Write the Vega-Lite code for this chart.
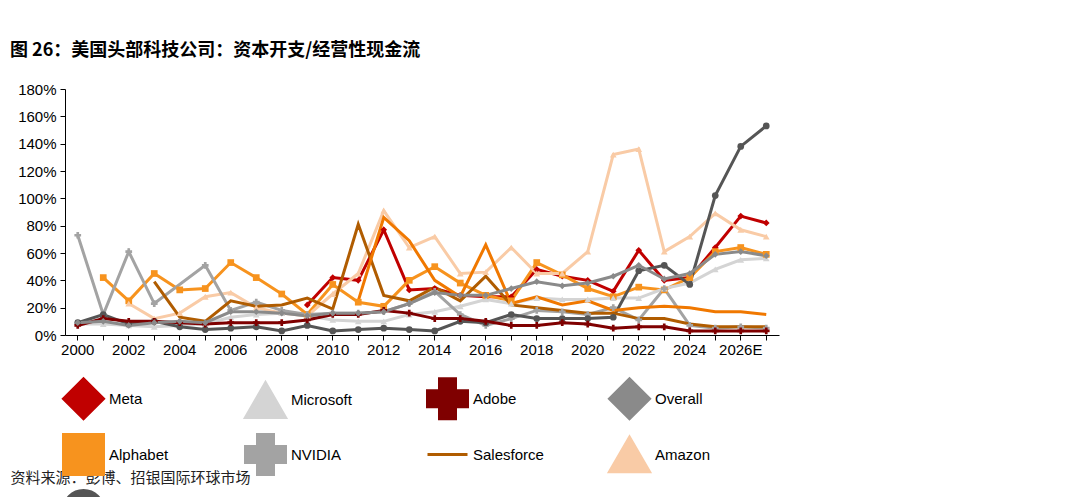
{
  "$schema": "https://vega.github.io/schema/vega-lite/v6.json",
  "padding": {"left": 10, "top": 42, "right": 4, "bottom": 4},
  "config": {
    "font": "Liberation Sans",
    "view": {"stroke": null}
  },
  "width": 714,
  "height": 246,
  "title": {
    "text": "图 26：美国头部科技公司：资本开支/经营性现金流",
    "anchor": "start",
    "frame": "bounds",
    "offset": 22,
    "font": "Noto Sans CJK SC",
    "fontSize": 18,
    "fontWeight": "bold",
    "color": "#000000"
  },
  "data": {
    "values": [
      {"s": "Meta", "yr": "2009", "v": 22}, {"s": "Meta", "yr": "2010", "v": 42}, {"s": "Meta", "yr": "2011", "v": 40},
      {"s": "Meta", "yr": "2012", "v": 77}, {"s": "Meta", "yr": "2013", "v": 33}, {"s": "Meta", "yr": "2014", "v": 34},
      {"s": "Meta", "yr": "2015", "v": 29}, {"s": "Meta", "yr": "2016", "v": 28}, {"s": "Meta", "yr": "2017", "v": 28},
      {"s": "Meta", "yr": "2018", "v": 48}, {"s": "Meta", "yr": "2019", "v": 43}, {"s": "Meta", "yr": "2020", "v": 40},
      {"s": "Meta", "yr": "2021", "v": 32}, {"s": "Meta", "yr": "2022", "v": 62}, {"s": "Meta", "yr": "2023", "v": 40},
      {"s": "Meta", "yr": "2024", "v": 42}, {"s": "Meta", "yr": "2025E", "v": 64}, {"s": "Meta", "yr": "2026E", "v": 87},
      {"s": "Meta", "yr": "2027E", "v": 82},

      {"s": "Alphabet", "yr": "2001", "v": 42}, {"s": "Alphabet", "yr": "2002", "v": 25}, {"s": "Alphabet", "yr": "2003", "v": 45},
      {"s": "Alphabet", "yr": "2004", "v": 33}, {"s": "Alphabet", "yr": "2005", "v": 34}, {"s": "Alphabet", "yr": "2006", "v": 53},
      {"s": "Alphabet", "yr": "2007", "v": 42}, {"s": "Alphabet", "yr": "2008", "v": 30}, {"s": "Alphabet", "yr": "2009", "v": 15},
      {"s": "Alphabet", "yr": "2010", "v": 37}, {"s": "Alphabet", "yr": "2011", "v": 24}, {"s": "Alphabet", "yr": "2012", "v": 21},
      {"s": "Alphabet", "yr": "2013", "v": 40}, {"s": "Alphabet", "yr": "2014", "v": 50}, {"s": "Alphabet", "yr": "2015", "v": 38},
      {"s": "Alphabet", "yr": "2016", "v": 29}, {"s": "Alphabet", "yr": "2017", "v": 25}, {"s": "Alphabet", "yr": "2018", "v": 53},
      {"s": "Alphabet", "yr": "2019", "v": 44}, {"s": "Alphabet", "yr": "2020", "v": 34}, {"s": "Alphabet", "yr": "2021", "v": 28},
      {"s": "Alphabet", "yr": "2022", "v": 35}, {"s": "Alphabet", "yr": "2023", "v": 33}, {"s": "Alphabet", "yr": "2024", "v": 42},
      {"s": "Alphabet", "yr": "2025E", "v": 61}, {"s": "Alphabet", "yr": "2026E", "v": 64}, {"s": "Alphabet", "yr": "2027E", "v": 59},

      {"s": "Amazon", "yr": "2002", "v": 23}, {"s": "Amazon", "yr": "2003", "v": 12}, {"s": "Amazon", "yr": "2004", "v": 16},
      {"s": "Amazon", "yr": "2005", "v": 28}, {"s": "Amazon", "yr": "2006", "v": 31}, {"s": "Amazon", "yr": "2007", "v": 20},
      {"s": "Amazon", "yr": "2008", "v": 16}, {"s": "Amazon", "yr": "2009", "v": 14}, {"s": "Amazon", "yr": "2010", "v": 30},
      {"s": "Amazon", "yr": "2011", "v": 45}, {"s": "Amazon", "yr": "2012", "v": 91}, {"s": "Amazon", "yr": "2013", "v": 64},
      {"s": "Amazon", "yr": "2014", "v": 72}, {"s": "Amazon", "yr": "2015", "v": 45}, {"s": "Amazon", "yr": "2016", "v": 46},
      {"s": "Amazon", "yr": "2017", "v": 64}, {"s": "Amazon", "yr": "2018", "v": 45}, {"s": "Amazon", "yr": "2019", "v": 45},
      {"s": "Amazon", "yr": "2020", "v": 61}, {"s": "Amazon", "yr": "2021", "v": 132}, {"s": "Amazon", "yr": "2022", "v": 136},
      {"s": "Amazon", "yr": "2023", "v": 61}, {"s": "Amazon", "yr": "2024", "v": 72}, {"s": "Amazon", "yr": "2025E", "v": 89},
      {"s": "Amazon", "yr": "2026E", "v": 77}, {"s": "Amazon", "yr": "2027E", "v": 72},

      {"s": "Microsoft", "yr": "2000", "v": 8}, {"s": "Microsoft", "yr": "2001", "v": 8}, {"s": "Microsoft", "yr": "2002", "v": 7},
      {"s": "Microsoft", "yr": "2003", "v": 6}, {"s": "Microsoft", "yr": "2004", "v": 7}, {"s": "Microsoft", "yr": "2005", "v": 8},
      {"s": "Microsoft", "yr": "2006", "v": 13}, {"s": "Microsoft", "yr": "2007", "v": 15}, {"s": "Microsoft", "yr": "2008", "v": 16},
      {"s": "Microsoft", "yr": "2009", "v": 14}, {"s": "Microsoft", "yr": "2010", "v": 11}, {"s": "Microsoft", "yr": "2011", "v": 10},
      {"s": "Microsoft", "yr": "2012", "v": 10}, {"s": "Microsoft", "yr": "2013", "v": 15}, {"s": "Microsoft", "yr": "2014", "v": 17},
      {"s": "Microsoft", "yr": "2015", "v": 21}, {"s": "Microsoft", "yr": "2016", "v": 26}, {"s": "Microsoft", "yr": "2017", "v": 23},
      {"s": "Microsoft", "yr": "2018", "v": 27}, {"s": "Microsoft", "yr": "2019", "v": 26}, {"s": "Microsoft", "yr": "2020", "v": 26},
      {"s": "Microsoft", "yr": "2021", "v": 27}, {"s": "Microsoft", "yr": "2022", "v": 27}, {"s": "Microsoft", "yr": "2023", "v": 34},
      {"s": "Microsoft", "yr": "2024", "v": 38}, {"s": "Microsoft", "yr": "2025E", "v": 48}, {"s": "Microsoft", "yr": "2026E", "v": 55},
      {"s": "Microsoft", "yr": "2027E", "v": 56},

      {"s": "NVIDIA", "yr": "2000", "v": 73}, {"s": "NVIDIA", "yr": "2001", "v": 15}, {"s": "NVIDIA", "yr": "2002", "v": 61},
      {"s": "NVIDIA", "yr": "2003", "v": 23}, {"s": "NVIDIA", "yr": "2005", "v": 51},
      {"s": "NVIDIA", "yr": "2006", "v": 18}, {"s": "NVIDIA", "yr": "2007", "v": 24}, {"s": "NVIDIA", "yr": "2008", "v": 18},
      {"s": "NVIDIA", "yr": "2009", "v": 15}, {"s": "NVIDIA", "yr": "2010", "v": 16}, {"s": "NVIDIA", "yr": "2011", "v": 16},
      {"s": "NVIDIA", "yr": "2012", "v": 17}, {"s": "NVIDIA", "yr": "2013", "v": 23}, {"s": "NVIDIA", "yr": "2014", "v": 32},
      {"s": "NVIDIA", "yr": "2015", "v": 15}, {"s": "NVIDIA", "yr": "2016", "v": 7}, {"s": "NVIDIA", "yr": "2017", "v": 12},
      {"s": "NVIDIA", "yr": "2018", "v": 18}, {"s": "NVIDIA", "yr": "2019", "v": 17}, {"s": "NVIDIA", "yr": "2020", "v": 15},
      {"s": "NVIDIA", "yr": "2021", "v": 20}, {"s": "NVIDIA", "yr": "2022", "v": 11}, {"s": "NVIDIA", "yr": "2023", "v": 34},
      {"s": "NVIDIA", "yr": "2024", "v": 7}, {"s": "NVIDIA", "yr": "2025E", "v": 5}, {"s": "NVIDIA", "yr": "2026E", "v": 6},
      {"s": "NVIDIA", "yr": "2027E", "v": 5},

      {"s": "Oracle", "yr": "2000", "v": 9}, {"s": "Oracle", "yr": "2001", "v": 15}, {"s": "Oracle", "yr": "2002", "v": 8},
      {"s": "Oracle", "yr": "2003", "v": 10}, {"s": "Oracle", "yr": "2004", "v": 6}, {"s": "Oracle", "yr": "2005", "v": 4},
      {"s": "Oracle", "yr": "2006", "v": 5}, {"s": "Oracle", "yr": "2007", "v": 6}, {"s": "Oracle", "yr": "2008", "v": 3},
      {"s": "Oracle", "yr": "2009", "v": 7}, {"s": "Oracle", "yr": "2010", "v": 3}, {"s": "Oracle", "yr": "2011", "v": 4},
      {"s": "Oracle", "yr": "2012", "v": 5}, {"s": "Oracle", "yr": "2013", "v": 4}, {"s": "Oracle", "yr": "2014", "v": 3},
      {"s": "Oracle", "yr": "2015", "v": 10}, {"s": "Oracle", "yr": "2016", "v": 9}, {"s": "Oracle", "yr": "2017", "v": 15},
      {"s": "Oracle", "yr": "2018", "v": 12}, {"s": "Oracle", "yr": "2019", "v": 12}, {"s": "Oracle", "yr": "2020", "v": 12},
      {"s": "Oracle", "yr": "2021", "v": 13}, {"s": "Oracle", "yr": "2022", "v": 47}, {"s": "Oracle", "yr": "2023", "v": 51},
      {"s": "Oracle", "yr": "2024", "v": 37}, {"s": "Oracle", "yr": "2025E", "v": 102}, {"s": "Oracle", "yr": "2026E", "v": 138},
      {"s": "Oracle", "yr": "2027E", "v": 153},

      {"s": "Adobe", "yr": "2000", "v": 7}, {"s": "Adobe", "yr": "2001", "v": 12}, {"s": "Adobe", "yr": "2002", "v": 10},
      {"s": "Adobe", "yr": "2003", "v": 10}, {"s": "Adobe", "yr": "2004", "v": 9}, {"s": "Adobe", "yr": "2005", "v": 8},
      {"s": "Adobe", "yr": "2006", "v": 9}, {"s": "Adobe", "yr": "2007", "v": 9}, {"s": "Adobe", "yr": "2008", "v": 9},
      {"s": "Adobe", "yr": "2009", "v": 11}, {"s": "Adobe", "yr": "2010", "v": 15}, {"s": "Adobe", "yr": "2011", "v": 15},
      {"s": "Adobe", "yr": "2012", "v": 18}, {"s": "Adobe", "yr": "2013", "v": 16}, {"s": "Adobe", "yr": "2014", "v": 12},
      {"s": "Adobe", "yr": "2015", "v": 12}, {"s": "Adobe", "yr": "2016", "v": 10}, {"s": "Adobe", "yr": "2017", "v": 7},
      {"s": "Adobe", "yr": "2018", "v": 7}, {"s": "Adobe", "yr": "2019", "v": 9}, {"s": "Adobe", "yr": "2020", "v": 8},
      {"s": "Adobe", "yr": "2021", "v": 5}, {"s": "Adobe", "yr": "2022", "v": 6}, {"s": "Adobe", "yr": "2023", "v": 6},
      {"s": "Adobe", "yr": "2024", "v": 3}, {"s": "Adobe", "yr": "2025E", "v": 3}, {"s": "Adobe", "yr": "2026E", "v": 3},
      {"s": "Adobe", "yr": "2027E", "v": 3},

      {"s": "Salesforce", "yr": "2003", "v": 39}, {"s": "Salesforce", "yr": "2004", "v": 13}, {"s": "Salesforce", "yr": "2005", "v": 10},
      {"s": "Salesforce", "yr": "2006", "v": 25}, {"s": "Salesforce", "yr": "2007", "v": 21}, {"s": "Salesforce", "yr": "2008", "v": 22},
      {"s": "Salesforce", "yr": "2009", "v": 27}, {"s": "Salesforce", "yr": "2010", "v": 19}, {"s": "Salesforce", "yr": "2011", "v": 81},
      {"s": "Salesforce", "yr": "2012", "v": 29}, {"s": "Salesforce", "yr": "2013", "v": 25}, {"s": "Salesforce", "yr": "2014", "v": 35},
      {"s": "Salesforce", "yr": "2015", "v": 25}, {"s": "Salesforce", "yr": "2016", "v": 43}, {"s": "Salesforce", "yr": "2017", "v": 22},
      {"s": "Salesforce", "yr": "2018", "v": 20}, {"s": "Salesforce", "yr": "2019", "v": 18}, {"s": "Salesforce", "yr": "2020", "v": 16},
      {"s": "Salesforce", "yr": "2021", "v": 16}, {"s": "Salesforce", "yr": "2022", "v": 12}, {"s": "Salesforce", "yr": "2023", "v": 12},
      {"s": "Salesforce", "yr": "2024", "v": 8}, {"s": "Salesforce", "yr": "2025E", "v": 6}, {"s": "Salesforce", "yr": "2026E", "v": 6},
      {"s": "Salesforce", "yr": "2027E", "v": 6},

      {"s": "ServiceNow", "yr": "2011", "v": 25}, {"s": "ServiceNow", "yr": "2012", "v": 86}, {"s": "ServiceNow", "yr": "2013", "v": 69},
      {"s": "ServiceNow", "yr": "2014", "v": 40}, {"s": "ServiceNow", "yr": "2015", "v": 28}, {"s": "ServiceNow", "yr": "2016", "v": 66},
      {"s": "ServiceNow", "yr": "2017", "v": 23}, {"s": "ServiceNow", "yr": "2018", "v": 28}, {"s": "ServiceNow", "yr": "2019", "v": 22},
      {"s": "ServiceNow", "yr": "2020", "v": 25}, {"s": "ServiceNow", "yr": "2021", "v": 18}, {"s": "ServiceNow", "yr": "2022", "v": 20},
      {"s": "ServiceNow", "yr": "2023", "v": 21}, {"s": "ServiceNow", "yr": "2024", "v": 20}, {"s": "ServiceNow", "yr": "2025E", "v": 17},
      {"s": "ServiceNow", "yr": "2026E", "v": 17}, {"s": "ServiceNow", "yr": "2027E", "v": 15},

      {"s": "Overall", "yr": "2000", "v": 9}, {"s": "Overall", "yr": "2001", "v": 10}, {"s": "Overall", "yr": "2002", "v": 7},
      {"s": "Overall", "yr": "2003", "v": 9}, {"s": "Overall", "yr": "2004", "v": 10}, {"s": "Overall", "yr": "2005", "v": 9},
      {"s": "Overall", "yr": "2006", "v": 17}, {"s": "Overall", "yr": "2007", "v": 17}, {"s": "Overall", "yr": "2008", "v": 16},
      {"s": "Overall", "yr": "2009", "v": 14}, {"s": "Overall", "yr": "2010", "v": 16}, {"s": "Overall", "yr": "2011", "v": 16},
      {"s": "Overall", "yr": "2012", "v": 17}, {"s": "Overall", "yr": "2013", "v": 23}, {"s": "Overall", "yr": "2014", "v": 31},
      {"s": "Overall", "yr": "2015", "v": 29}, {"s": "Overall", "yr": "2016", "v": 29}, {"s": "Overall", "yr": "2017", "v": 34},
      {"s": "Overall", "yr": "2018", "v": 39}, {"s": "Overall", "yr": "2019", "v": 36}, {"s": "Overall", "yr": "2020", "v": 38},
      {"s": "Overall", "yr": "2021", "v": 43}, {"s": "Overall", "yr": "2022", "v": 51}, {"s": "Overall", "yr": "2023", "v": 41},
      {"s": "Overall", "yr": "2024", "v": 45}, {"s": "Overall", "yr": "2025E", "v": 59}, {"s": "Overall", "yr": "2026E", "v": 61},
      {"s": "Overall", "yr": "2027E", "v": 58}
    ]
  },
  "encoding": {
    "x": {
      "field": "yr",
      "type": "ordinal",
      "scale": {
        "type": "band",
        "paddingInner": 0,
        "paddingOuter": 0,
        "domain": ["2000", "2001", "2002", "2003", "2004", "2005", "2006", "2007", "2008", "2009",
                   "2010", "2011", "2012", "2013", "2014", "2015", "2016", "2017", "2018", "2019",
                   "2020", "2021", "2022", "2023", "2024", "2025E", "2026E", "2027E"]
      },
      "axis": {
        "title": "资料来源：彭博、招银国际环球市场",
        "titleFont": "Noto Sans CJK SC",
        "titleFontSize": 15,
        "titleFontWeight": "normal",
        "titleColor": "#222222",
        "titleAnchor": "start",
        "titleAlign": "left",
        "titleBaseline": "middle",
        "titleX": -55,
        "titleY": 142,
        "labelExpr": "toNumber(slice(datum.value, 0, 4)) % 2 === 0 ? datum.value : ''",
        "labelAngle": 0,
        "labelOverlap": false,
        "labelFontSize": 15,
        "labelColor": "#000000",
        "labelPadding": 2,
        "tickSize": 5,
        "tickColor": "#000000",
        "domainColor": "#000000",
        "grid": false
      }
    },
    "y": {
      "field": "v",
      "type": "quantitative",
      "scale": {"domain": [0, 180], "nice": false},
      "axis": {
        "title": null,
        "values": [0, 20, 40, 60, 80, 100, 120, 140, 160, 180],
        "labelExpr": "datum.value + '%'",
        "labelFontSize": 15,
        "labelColor": "#000000",
        "labelPadding": 4,
        "tickSize": 5,
        "tickColor": "#000000",
        "domainColor": "#000000",
        "grid": false
      }
    },
    "color": {
      "field": "s",
      "type": "nominal",
      "scale": {
        "domain": ["Meta", "Alphabet", "Amazon", "Microsoft", "NVIDIA", "Oracle", "Adobe", "Salesforce", "ServiceNow", "Overall"],
        "range": ["#C00000", "#F7931E", "#F9CBA6", "#D4D4D4", "#A3A3A3", "#555555", "#7F0000", "#B05C00", "#F07800", "#8A8A8A"]
      },
      "legend": {
        "title": null,
        "orient": "none",
        "legendX": -3,
        "legendY": 288,
        "columns": 4,
        "gridAlign": "all",
        "columnPadding": 49,
        "rowPadding": 3,
        "symbolType": "stroke",
        "symbolSize": 1600,
        "symbolStrokeWidth": 3,
        "labelFontSize": 15,
        "labelColor": "#000000",
        "labelOffset": 4
      }
    }
  },
  "layer": [
    {
      "mark": {"type": "line", "strokeWidth": 3},
      "encoding": {}
    },
    {
      "mark": {"type": "point", "filled": true, "opacity": 1, "size": 45},
      "encoding": {
        "shape": {
          "field": "s",
          "type": "nominal",
          "scale": {
            "domain": ["Meta", "Alphabet", "Amazon", "Microsoft", "NVIDIA", "Oracle", "Adobe", "Salesforce", "ServiceNow", "Overall"],
            "range": ["diamond", "square", "triangle-up", "triangle-up", "cross", "circle", "cross", "stroke", "stroke", "diamond"]
          },
          "legend": null
        }
      }
    }
  ]
}
